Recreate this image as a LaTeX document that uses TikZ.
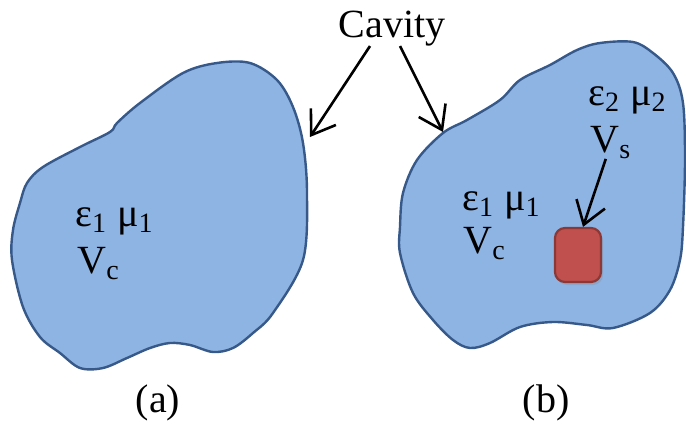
\documentclass[tikz,border=0pt]{standalone}
\usepackage{fontspec}
\setmainfont{Liberation Serif}
\usetikzlibrary{arrows.meta,shadows}
\definecolor{cavfill}{HTML}{8EB4E3}
\definecolor{cavline}{HTML}{36598A}
\definecolor{scatfill}{HTML}{C0504D}
\definecolor{scatline}{HTML}{8C3836}
\tikzset{
  every picture/.style={font=\fontsize{20}{24}\selectfont},
  cavity/.style={draw=cavline,fill=cavfill,line width=1.2pt,line join=round},
  scatterer/.style={rectangle,rounded corners=5pt,draw=scatline,fill=scatfill,
    line width=1.1pt,minimum width=23pt,minimum height=27pt,inner sep=0pt,
    drop shadow={opacity=0.25,shadow xshift=1pt,shadow yshift=-1.5pt}},
  pointer/.style={draw=black,line width=1.3pt,
    -{Straight Barb[length=11pt,width=15pt]}},
  label text/.style={inner sep=0pt,anchor=base west},
}

\begin{document}
\begin{tikzpicture}[x=0.5pt,y=-0.5pt]
  \fill[white] (0,0) rectangle (686,428);
  \useasboundingbox (0,0) rectangle (686,428);
  % (a) empty cavity
  \draw[cavity] plot[smooth cycle,tension=0.55] coordinates {
    (217,63) (250,63) (277,80) (293,107) (303,143) (307,193) (303,260)
    (273,313) (253,333) (233,348) (213,352) (190,345) (170,343) (150,348)
    (127,358) (103,368) (80,368) (60,353) (40,337) (23,307) (12,260)
    (13,230) (20,203) (27,183) (43,167) (80,147) (110,132) (117,123)
    (140,103) (183,73)};
  % (b) cavity holding a small scatterer
  \draw[cavity] plot[smooth cycle,tension=0.55] coordinates {
    (600,43) (633,42) (653,53) (673,73) (683,103) (685,160) (683,227)
    (680,260) (670,290) (650,313) (613,328) (587,325) (553,322) (520,327)
    (490,343) (470,348) (453,340) (433,320) (413,293) (400,253) (400,227)
    (403,193) (417,160) (443,133) (467,120) (500,100) (520,80) (550,65)
    (577,50)};
  \node[scatterer] (scat) at (578,255) {};
  \node[label text] (epsa) at (75,226) {ε\textsubscript{1} μ\textsubscript{1}};
  \node[label text] (vca) at (77,273) {V\textsubscript{c}};
  \node[label text] (epsb) at (462,210) {ε\textsubscript{1} μ\textsubscript{1}};
  \node[label text] (vcb) at (463,253) {V\textsubscript{c}};
  \node[label text] (epss) at (588,105) {ε\textsubscript{2} μ\textsubscript{2}};
  \node[label text] (vs) at (590,152) {V\textsubscript{s}};
  \node[inner sep=0pt,anchor=base] (cav) at (392,37) {Cavity};
  \coordinate (hita) at (310,137);
  \coordinate (hitb) at (443,132);
  \draw[pointer] ([xshift=-11pt]cav.south) -- (hita);
  \draw[pointer] ([xshift=4pt]cav.south) -- (hitb);
  \draw[pointer] ([xshift=-2.5pt]vs.south) -- ([xshift=2.5pt]scat.north);
  \foreach \lbl/\xx in {a/158,b/546}
    \node[inner sep=0pt,anchor=base] (sub\lbl) at (\xx,412) {(\lbl)};
\end{tikzpicture}
\end{document}
